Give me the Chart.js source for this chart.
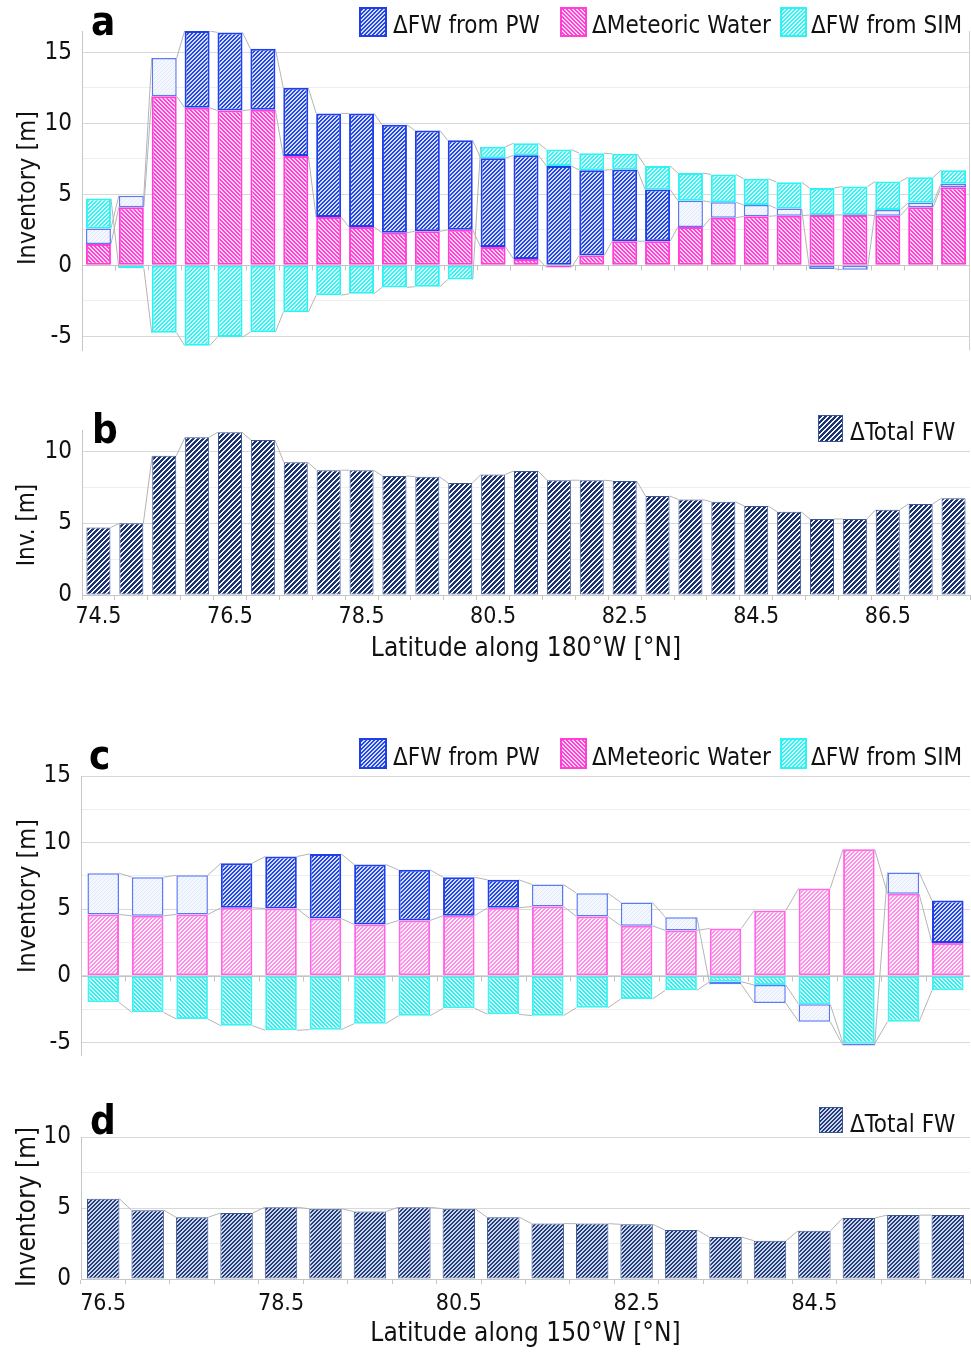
<!DOCTYPE html>
<html>
<head>
<meta charset="utf-8">
<script src="https://cdn.jsdelivr.net/npm/chart.js@4.4.1/dist/chart.umd.min.js"></script>
<style>
  body { margin: 0; background: #fff; }
  #page { position: relative; width: 971px; height: 1354px; overflow: hidden; background: #fff;
          font-family: 'DejaVu Sans Condensed', 'Liberation Sans Narrow', sans-serif; color: #111; }
  canvas { position: absolute; left: 0; display: block; }
  .letter { position: absolute; font-weight: bold; font-size: 40px; line-height: 40px; color: #000; }
  .ytitle { position: absolute; white-space: nowrap; line-height: 1; transform: translate(-50%, -50%) rotate(-90deg); }
  .legtext { position: absolute; font-size: 24px; line-height: 30px; white-space: nowrap; }
  .sw { position: absolute; box-sizing: border-box; image-rendering: pixelated; }
</style>
</head>
<body>
<div id="page">
  <canvas id="chartA" width="971" height="375" style="top:0px"></canvas>
  <canvas id="chartB" width="971" height="290" style="top:380px"></canvas>
  <canvas id="chartC" width="971" height="380" style="top:700px"></canvas>
  <canvas id="chartD" width="971" height="264" style="top:1090px"></canvas>

  <div class="letter" style="left:91px;top:1px">a</div>
  <div class="letter" style="left:92px;top:409px">b</div>
  <div class="letter" style="left:89px;top:735px">c</div>
  <div class="letter" style="left:90px;top:1100px">d</div>

  <div class="ytitle" style="left:26px;top:188px;font-size:25px">Inventory [m]</div>
  <div class="ytitle" style="left:26px;top:525px;font-size:24px">Inv. [m]</div>
  <div class="ytitle" style="left:26px;top:896px;font-size:25px">Inventory [m]</div>
  <div class="ytitle" style="left:26px;top:1207px;font-size:26px">Inventory [m]</div>
</div>

<script>
// ---- data: 180°W section (panels a, b)
const latA = ['74.5', '75.0', '75.5', '76.0', '76.5', '77.0', '77.5', '78.0', '78.5', '79.0', '79.5', '80.0', '80.5', '81.0',
              '81.5', '82.0', '82.5', '83.0', '83.5', '84.0', '84.5', '85.0', '85.5', '86.0', '86.5', '87.0', '87.5'];
const meteoricA = [1.5, 4.1, 11.9, 11.1, 10.9, 10.95, 7.7, 3.4, 2.7, 2.3, 2.4, 2.5, 1.3, 0.45,
                   -0.15, 0.7, 1.7, 1.7, 2.7, 3.35, 3.45, 3.5, 3.55, 3.55, 3.5, 4.1, 5.5];
const pwA = [null, null, null, 5.4, 5.5, 4.3, 4.8, 7.3, 8.0, 7.6, 7.1, 6.3, 6.25, 7.3,
             7.0, 6.0, 5.05, 3.65, null, null, null, null, null, null, null, null, null];
// PW values drawn with a pale fill
const pwLightA = [1.1, 0.8, 2.7, null, null, null, null, null, null, null, null, null, null, null,
                  null, null, null, null, 1.85, 1.1, 0.8, 0.5, -0.25, -0.3, 0.4, 0.3, 0.25];
const simA = [2.1, -0.2, -4.75, -5.65, -5.05, -4.7, -3.3, -2.1, -2.0, -1.55, -1.5, -1.0, 0.8, 0.85,
              1.15, 1.2, 1.1, 1.65, 1.95, 1.95, 1.85, 1.85, 1.9, 2.0, 2.0, 1.8, 0.95];
const totalA = [4.7, 5.0, 9.7, 11.0, 11.35, 10.8, 9.25, 8.7, 8.7, 8.3, 8.25, 7.8, 8.4, 8.65,
                8.0, 8.0, 7.95, 6.9, 6.65, 6.5, 6.2, 5.8, 5.3, 5.3, 5.95, 6.35, 6.75];

// ---- data: 150°W section (panels c, d)
const latC = ['76.5', '77.0', '77.5', '78.0', '78.5', '79.0', '79.5', '80.0', '80.5', '81.0',
              '81.5', '82.0', '82.5', '83.0', '83.5', '84.0', '84.5', '85.0', '85.5', '86.0'];
const meteoricC = [4.6, 4.5, 4.6, 5.1, 5.05, 4.3, 3.85, 4.15, 4.5, 5.1, 5.2, 4.45, 3.75, 3.4, 3.55, 4.9, 6.55, 9.5, 6.15, 2.45];
const pwC = [null, null, null, 3.35, 3.9, 4.85, 4.5, 3.8, 2.9, 2.1, null, null, null, null, null, null, null, null, null, 3.2];
const pwLightC = [3.1, 2.9, 2.95, null, null, null, null, null, null, null, 1.65, 1.75, 1.75, 1.0, -0.2, -1.35, -1.3, -0.15, 1.6, null];
const simC = [-2.0, -2.75, -3.25, -3.75, -4.1, -4.05, -3.6, -3.0, -2.45, -2.9, -3.0, -2.4, -1.75, -1.1, -0.45, -0.7, -2.15, -5.1, -3.45, -1.1];
const totalC = [5.65, 4.85, 4.35, 4.65, 5.05, 4.95, 4.75, 5.05, 4.95, 4.35, 3.9, 3.9, 3.85, 3.45, 2.95, 2.7, 3.4, 4.3, 4.5, 4.5];

// tick values
const yTicksStack = [-5, -2.5, 0, 2.5, 5, 7.5, 10, 12.5, 15];
const yTicksTotal = [0, 2.5, 5, 7.5, 10];

const FONT = "'DejaVu Sans Condensed', 'Liberation Sans Narrow', sans-serif";
const TEXT = '#111';
Chart.defaults.font.family = FONT;
Chart.defaults.color = TEXT;

function hexRgb(h) {
    const n = parseInt(h.slice(1), 16);
    return [(n >> 16) & 255, (n >> 8) & 255, n & 255];
}

// small pixel hatch tile, like the office-chart pattern fills
function hatchTile(fg, bg, dir, period, thick) {
    const c = document.createElement('canvas');
    c.width = c.height = period;
    const g = c.getContext('2d');
    const img = g.createImageData(period, period);
    const f = hexRgb(fg), b = hexRgb(bg);
    for (let y = 0; y < period; y++) {
        for (let x = 0; x < period; x++) {
            const k = dir === '/' ? (x + y) % period : (x - y + period * 2) % period;
            const col = k < thick ? f : b;
            const o = (y * period + x) * 4;
            img.data[o] = col[0]; img.data[o + 1] = col[1]; img.data[o + 2] = col[2]; img.data[o + 3] = 255;
        }
    }
    g.putImageData(img, 0, 0);
    return c;
}

const tiles = {
    pw: hatchTile('#2447e0', '#d4ddff', '/', 4, 2),
    pwLight: hatchTile('#e2e8fb', '#f4f7fe', '/', 4, 1),
    metA: hatchTile('#ff3fd5', '#ffd3f3', '\\', 4, 2),
    simA: hatchTile('#36f2f2', '#d8ffff', '/', 4, 2),
    metC: hatchTile('#ff8ee9', '#fff2fc', '/', 4, 2),
    simC: hatchTile('#2eeeee', '#d2fbfb', '\\', 4, 2),
    totB: hatchTile('#1b3370', '#f4f6fb', '/', 5, 3),
    totD: hatchTile('#213d7c', '#cdd5ea', '/', 4, 2)
};

// grey connector lines between the ends of each series in neighbouring bars
const seriesLines = {
    id: 'seriesLines',
    beforeDatasetsDraw(chart) {
        const {ctx, chartArea} = chart;
        const y = chart.scales.y;
        const n = chart.data.labels.length;
        const ends = {};
        for (let i = 0; i < n; i++) {
            let pos = 0, neg = 0;
            chart.data.datasets.forEach(ds => {
                const key = ds.key;
                if (!ends[key]) ends[key] = [];
                const e = ends[key][i];
                const v = ds.data[i];
                if (v == null) {
                    if (!e) ends[key][i] = {v: pos, real: false};
                    return;
                }
                let end;
                if (v >= 0) { pos += v; end = pos; } else { neg += v; end = neg; }
                if (!e || !e.real) ends[key][i] = {v: end, real: true};
            });
        }
        const bars = chart.getDatasetMeta(0).data;
        ctx.save();
        ctx.beginPath();
        ctx.rect(chartArea.left, chartArea.top, chartArea.width, chartArea.height);
        ctx.clip();
        ctx.strokeStyle = '#b4b4b4';
        ctx.lineWidth = 1;
        ctx.beginPath();
        Object.keys(ends).forEach(key => {
            for (let i = 0; i < n - 1; i++) {
                const a = bars[i], b = bars[i + 1];
                ctx.moveTo(a.x + a.width / 2, y.getPixelForValue(ends[key][i].v));
                ctx.lineTo(b.x - b.width / 2, y.getPixelForValue(ends[key][i + 1].v));
            }
        });
        ctx.stroke();
        ctx.restore();
    }
};

// category axis crossing at zero (panels a and c)
const zeroAxis = {
    id: 'zeroAxis',
    beforeDatasetsDraw(chart) {
        const {ctx, chartArea} = chart;
        const y0 = Math.round(chart.scales.y.getPixelForValue(0)) + 0.5;
        const n = chart.data.labels.length;
        ctx.save();
        ctx.strokeStyle = '#c4c4c4';
        ctx.lineWidth = 1;
        ctx.beginPath();
        ctx.moveTo(chartArea.left, y0);
        ctx.lineTo(chartArea.right, y0);
        for (let i = 1; i < n; i++) {
            const px = Math.round(chartArea.left + i * chartArea.width / n) + 0.5;
            ctx.moveTo(px, y0);
            ctx.lineTo(px, y0 + 5);
        }
        ctx.stroke();
        ctx.restore();
    }
};

// thin frame line on the right of the plot (panel a)
const rightEdge = {
    id: 'rightEdge',
    afterDraw(chart) {
        const {ctx, chartArea} = chart;
        ctx.save();
        ctx.strokeStyle = '#d0d0d0';
        ctx.lineWidth = 1;
        ctx.beginPath();
        ctx.moveTo(chartArea.right - 0.5, chartArea.top);
        ctx.lineTo(chartArea.right - 0.5, chartArea.bottom);
        ctx.stroke();
        ctx.restore();
    }
};

function yScale(min, max, ticks, width) {
    return {
        stacked: true,
        min: min,
        max: max,
        afterBuildTicks: ax => { ax.ticks = ticks.map(v => ({value: v})); },
        afterFit: ax => { ax.width = width; },
        border: {color: '#c6c6c6'},
        grid: {
            drawTicks: false,
            color: c => (c.tick && c.tick.value % 5 === 0) ? '#d8d8d8' : '#eeeeee'
        },
        ticks: {
            padding: 10,
            color: TEXT,
            font: {size: 24},
            callback: v => (v % 5 === 0 ? String(v) : '')
        }
    };
}

function xHidden() {
    return {stacked: true, display: false};
}

function xShown(height, title, tickPad, titlePad) {
    return {
        stacked: true,
        afterFit: ax => { ax.height = height; },
        border: {color: '#c6c6c6'},
        grid: {drawOnChartArea: false, tickLength: 5, color: '#c6c6c6', offset: true},
        ticks: {
            autoSkip: false,
            maxRotation: 0,
            padding: tickPad,
            color: TEXT,
            font: {size: 23},
            callback: function (v, i) { return i % 4 === 0 ? this.getLabelForValue(v) : ''; }
        },
        title: {display: true, text: title, color: TEXT, font: {size: 26}, padding: {top: 0, bottom: titlePad}}
    };
}

function options(padding, barPct, x, y) {
    return {
        responsive: false,
        animation: false,
        devicePixelRatio: 1,
        layout: {padding: padding},
        plugins: {legend: {display: false}, tooltip: {enabled: false}},
        datasets: {bar: {barPercentage: barPct, categoryPercentage: 1, borderSkipped: false, clip: 0}},
        scales: {x: x, y: y}
    };
}

function stackedSets(ctx, met, pw, pwLight, sim, look) {
    const pat = t => ctx.createPattern(t, 'repeat');
    const light = {backgroundColor: pat(tiles.pwLight), borderColor: '#5a7af3', borderWidth: 1.5};
    return [
        {label: 'ΔMeteoric Water', key: 'met', data: met, backgroundColor: pat(look.met), borderColor: look.metBorder, borderWidth: 2},
        {label: 'ΔFW from PW', key: 'pw', data: pw, backgroundColor: pat(tiles.pw), borderColor: '#1f40e8', borderWidth: 2},
        Object.assign({label: 'ΔFW from PW ', key: 'pw', data: pwLight.map(v => (v > 0 ? v : null))}, light),
        {label: 'ΔFW from SIM', key: 'sim', data: sim, backgroundColor: pat(look.sim), borderColor: look.simBorder, borderWidth: 2},
        Object.assign({label: 'ΔFW from PW  ', key: 'pw', data: pwLight.map(v => (v < 0 ? v : null))}, light)
    ];
}

function totalSet(ctx, data, tile) {
    return [{label: 'ΔTotal FW', key: 'tot', data: data, backgroundColor: ctx.createPattern(tile, 'repeat'),
             borderColor: '#3b5592', borderWidth: 1}];
}

window.onload = function () {
    const ctxA = document.getElementById('chartA').getContext('2d');
    const ctxB = document.getElementById('chartB').getContext('2d');
    const ctxC = document.getElementById('chartC').getContext('2d');
    const ctxD = document.getElementById('chartD').getContext('2d');

    new Chart(ctxA, {
        type: 'bar',
        data: {labels: latA, datasets: stackedSets(ctxA, meteoricA, pwA, pwLightA, simA,
            {met: tiles.metA, metBorder: '#ff3fd6', sim: tiles.simA, simBorder: '#2ff2f2'})},
        options: options({top: 31, right: 1, bottom: 14, left: 0}, 0.76, xHidden(), yScale(-6, 16.5, yTicksStack, 82)),
        plugins: [zeroAxis, seriesLines, rightEdge]
    });

    new Chart(ctxB, {
        type: 'bar',
        data: {labels: latA, datasets: totalSet(ctxB, totalA, tiles.totB)},
        options: options({top: 50, right: 1, bottom: 0, left: 0}, 0.73,
            xShown(75, 'Latitude along 180°W [°N]', 3, 5), yScale(0, 11.5, yTicksTotal, 82)),
        plugins: [seriesLines]
    });

    new Chart(ctxC, {
        type: 'bar',
        data: {labels: latC, datasets: stackedSets(ctxC, meteoricC, pwC, pwLightC, simC,
            {met: tiles.metC, metBorder: '#ff66e2', sim: tiles.simC, simBorder: '#40f2f2'})},
        options: options({top: 76, right: 1, bottom: 11, left: 0}, 0.71, xHidden(), yScale(-6, 15, yTicksStack, 81)),
        plugins: [zeroAxis, seriesLines]
    });

    new Chart(ctxD, {
        type: 'bar',
        data: {labels: latC, datasets: totalSet(ctxD, totalC, tiles.totD)},
        options: options({top: 47, right: 1, bottom: 0, left: 0}, 0.73,
            xShown(75, 'Latitude along 150°W [°N]', 6, 4), yScale(0, 10, yTicksTotal, 81)),
        plugins: [seriesLines]
    });

    // legends
    const page = document.getElementById('page');
    function legendItem(box, textPos, tile, border, text) {
        const sw = document.createElement('div');
        sw.className = 'sw';
        sw.style.left = box[0] + 'px';
        sw.style.top = box[1] + 'px';
        sw.style.width = box[2] + 'px';
        sw.style.height = box[3] + 'px';
        sw.style.border = border;
        sw.style.backgroundImage = 'url(' + tile.toDataURL() + ')';
        sw.style.backgroundSize = tile.width + 'px ' + tile.height + 'px';
        page.appendChild(sw);
        const t = document.createElement('div');
        t.className = 'legtext';
        t.style.left = textPos[0] + 'px';
        t.style.top = textPos[1] + 'px';
        t.textContent = text;
        page.appendChild(t);
    }
    [[7, 30, 10], [738, 31, 742]].forEach(([bt, bh, tt]) => {
        legendItem([359, bt, 28, bh], [393, tt], tiles.pw, '2px solid #1f40e8', 'ΔFW from PW');
        legendItem([560, bt, 27, bh], [592, tt], tiles.metA, '2px solid #ff3fd6', 'ΔMeteoric Water');
        legendItem([780, bt, 27, bh], [811, tt], tiles.simA, '2px solid #2ff2f2', 'ΔFW from SIM');
    });
    legendItem([818, 415, 25, 27], [850, 417], tiles.totB, '1px solid #3b5592', 'ΔTotal FW');
    legendItem([819, 1107, 24, 26], [850, 1109], tiles.totD, '1px solid #3b5592', 'ΔTotal FW');
};
</script>
</body>
</html>
